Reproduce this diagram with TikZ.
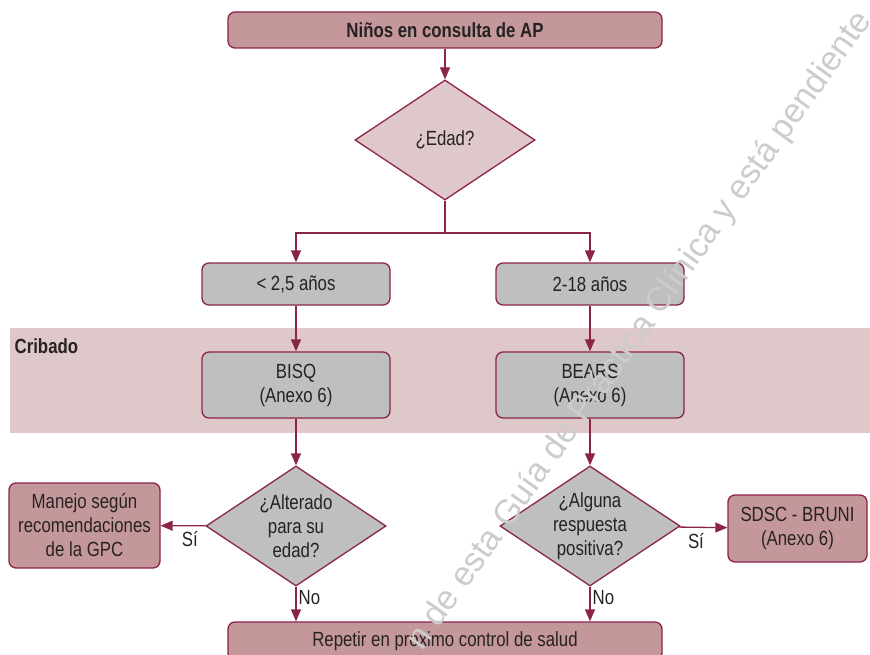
\documentclass[tikz,border=0pt]{standalone}
\usepackage{fontspec}
\setmainfont{Liberation Sans}[FakeStretch=0.82]
\newfontfamily\markfont{Liberation Sans}
\usetikzlibrary{shapes.geometric,arrows.meta}
\definecolor{granate}{HTML}{8B2449}
\definecolor{rosa}{HTML}{C4979A}
\definecolor{rosaclaro}{HTML}{DFC8C9}
\definecolor{gris}{HTML}{BFBFBF}
\definecolor{texto}{HTML}{262223}
\begin{document}
\begin{tikzpicture}[x=1pt, y=-1pt, line width=1.3pt,
    caja/.style={draw=granate, rounded corners=7pt, inner sep=0pt, align=center, text=texto, font=\fontsize{20.5}{24}\selectfont},
    rombo/.style={draw=granate, diamond, aspect=1.5, inner sep=0pt, minimum width=180pt, minimum height=120pt, align=center, text=texto, font=\fontsize{20.5}{24}\selectfont},
    flecha/.style={draw=granate, -{Triangle[length=12pt,width=10pt]}},
    etiq/.style={text=texto, font=\fontsize{20.5}{24}\selectfont, inner sep=2pt}]
    \clip (0,0) rectangle (870,655);
    \fill[rosaclaro] (10,328) rectangle (870,433);
    \node[anchor=west, etiq, font=\fontsize{20.5}{24}\selectfont\bfseries] (cribado) at (12,346) {Cribado};
    \node[caja, fill=rosa, minimum width=434pt, minimum height=36pt, font=\fontsize{20.5}{24}\selectfont\bfseries] (ninos) at (445,30) {Niños en consulta de AP};
    \node[rombo, fill=rosaclaro] (edad) at (445,140) {¿Edad?};
    \coordinate (reparto) at (445,233);
    \node[caja, fill=gris, minimum width=188pt, minimum height=42pt] (menor) at (296,284) {< 2,5 años};
    \node[caja, fill=gris, minimum width=188pt, minimum height=42pt] (mayor) at (590,284) {2-18 años};
    \node[caja, fill=gris, minimum width=188pt, minimum height=66pt] (bisq) at (296,385) {BISQ\\(Anexo 6)};
    \node[caja, fill=gris, minimum width=188pt, minimum height=66pt] (bears) at (590,385) {BEARS\\(Anexo 6)};
    \node[rombo, fill=gris] (alterado) at (296,526) {¿Alterado\\para su\\edad?};
    \node[rombo, fill=gris] (alguna) at (590,526) {¿Alguna\\respuesta\\positiva?};
    \node[caja, fill=rosa, minimum width=151pt, minimum height=85pt] (manejo) at (84.5,525.5) {Manejo según\\recomendaciones\\de la GPC};
    \node[caja, fill=rosa, minimum width=139pt, minimum height=67pt] (sdsc) at (797.5,528.5) {SDSC - BRUNI\\(Anexo 6)};
    \node[caja, fill=rosa, minimum width=434pt, minimum height=38pt] (repetir) at (445,641) {Repetir en próximo control de salud};
    \draw[flecha] (ninos) -- (edad);
    \draw[draw=granate] (edad) -- (reparto);
    \draw[flecha] (reparto) -| (menor);
    \draw[flecha] (reparto) -| (mayor);
    \draw[flecha] (menor) -- (bisq);
    \draw[flecha] (mayor) -- (bears);
    \draw[flecha] (bisq) -- (alterado);
    \draw[flecha] (bears) -- (alguna);
    \draw[flecha] (alterado) -- node[etiq, below, pos=0.35, yshift=-3pt] (si1) {Sí} (manejo);
    \draw[flecha] (alguna) -- node[etiq, below, pos=0.35, yshift=-3pt] (si2) {Sí} (sdsc);
    \draw[flecha] (alterado.south) -- node[etiq, right, pos=0.3] (no1) {No} (alterado.south |- repetir.north);
    \draw[flecha] (alguna.south) -- node[etiq, right, pos=0.3] (no2) {No} (alguna.south |- repetir.north);
    \node[anchor=base west, rotate=54.5, text=gray!40, font=\markfont\fontsize{34}{34}\selectfont, inner sep=0pt] (marca) at (422,652) {n de esta Guía de Práctica Clínica y está pendiente};
\end{tikzpicture}
\end{document}
